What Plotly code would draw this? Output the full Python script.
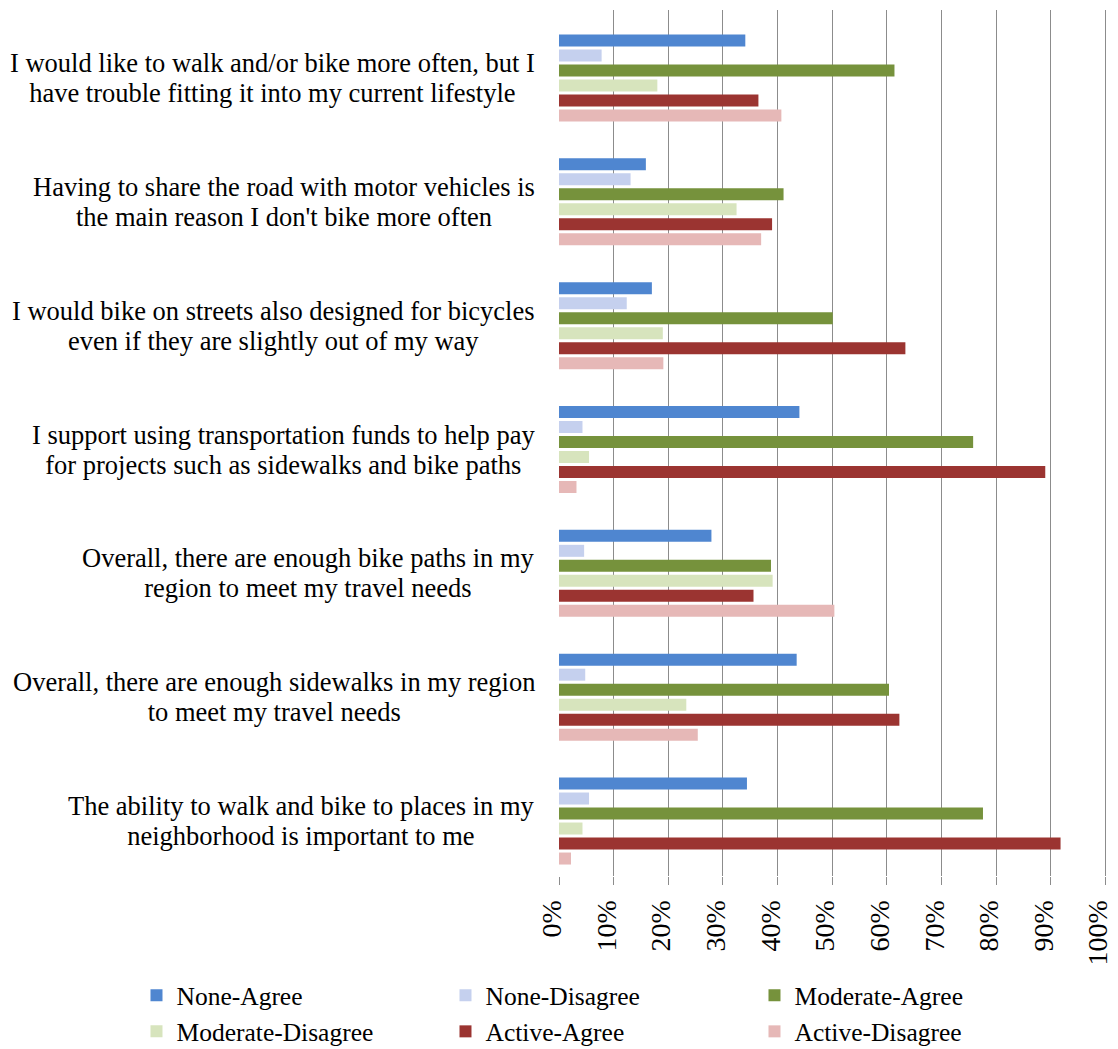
import plotly.graph_objects as go

categories = [
    ["I would like to walk and/or bike more often, but I", "have trouble fitting it into my current lifestyle"],
    ["Having to share the road with motor vehicles is", "the main reason I don't bike more often"],
    ["I would bike on streets also designed for bicycles", "even if they are slightly out of my way"],
    ["I support using transportation funds to help pay", "for projects such as sidewalks and bike paths"],
    ["Overall, there are enough bike paths in my", "region to meet my travel needs"],
    ["Overall, there are enough sidewalks in my region", "to meet my travel needs"],
    ["The ability to walk and bike to places in my", "neighborhood is important to me"],
]
category_keys = [" ".join(c) for c in categories]

none_agree = [34.1, 15.9, 17.0, 44.0, 27.9, 43.5, 34.4]
none_disagree = [7.8, 13.1, 12.4, 4.3, 4.6, 4.8, 5.5]
moderate_agree = [61.4, 41.1, 50.1, 75.8, 38.8, 60.4, 77.6]
moderate_disagree = [18.0, 32.5, 19.0, 5.5, 39.1, 23.3, 4.3]
active_agree = [36.5, 39.0, 63.4, 89.0, 35.6, 62.3, 91.8]
active_disagree = [40.7, 37.0, 19.1, 3.2, 50.4, 25.4, 2.2]

series_names = ["None-Agree", "None-Disagree", "Moderate-Agree",
                "Moderate-Disagree", "Active-Agree", "Active-Disagree"]
series_values = [none_agree, none_disagree, moderate_agree,
                 moderate_disagree, active_agree, active_disagree]
series_colors = ["#4F86D0", "#C5D0EE", "#76923C", "#D7E4BD", "#9B3431", "#E6B8B7"]

tick_vals = [i / 10 for i in range(11)]
tick_text = [f"{i*10}%" for i in range(11)]

FONT = "Liberation Serif, Times New Roman, serif"

fig = go.Figure()
for name, vals, col in zip(series_names, series_values, series_colors):
    fig.add_trace(go.Bar(
        name=name,
        y=category_keys,
        x=[v / 100 for v in vals],
        orientation="h",
        marker=dict(color=col, line=dict(width=0)),
    ))

for key, lines in zip(category_keys, categories):
    txt = "<br>".join(f'<span style="font-size:26.5px">{ln}</span>' for ln in lines)
    fig.add_annotation(
        text=txt, xref="paper", x=0, xanchor="right", xshift=-22,
        yref="y", y=key, yanchor="middle", align="center", showarrow=False,
        font=dict(family=FONT, size=23, color="#000000"),
    )

# page body has an 8px margin, so the figure is 8px smaller than the window
fig.update_layout(
    width=1110, height=1041,
    margin=dict(l=551, r=11, t=2, b=173, autoexpand=False),
    paper_bgcolor="white", plot_bgcolor="white",
    barmode="group", bargap=0.273, bargroupgap=0.2,
    font=dict(family=FONT, size=22, color="#000000"),
    showlegend=True,
    legend=dict(
        orientation="h", x=-0.771, xanchor="left", y=-0.111, yanchor="top",
        entrywidth=264, entrywidthmode="pixels",
        font=dict(family=FONT, size=25.5, color="#000000"),
        traceorder="normal", bgcolor="rgba(0,0,0,0)",
    ),
)

fig.update_xaxes(
    range=[0, 1.003], tickvals=tick_vals, ticktext=tick_text, tickangle=-90,
    showgrid=True, gridcolor="#8C8C8C", gridwidth=1,
    ticks="outside", ticklen=8, tickcolor="#8C8C8C",
    zeroline=False, showline=False, ticklabeloverflow="allow",
    ticklabelshift=-7, ticklabelstandoff=4,
    tickfont=dict(family=FONT, size=28, color="#000000"),
)
fig.update_yaxes(
    range=[6.444, -0.549], showticklabels=False, showgrid=False,
    zeroline=False, showline=False, ticks="",
)

fig.write_html("out.html")
